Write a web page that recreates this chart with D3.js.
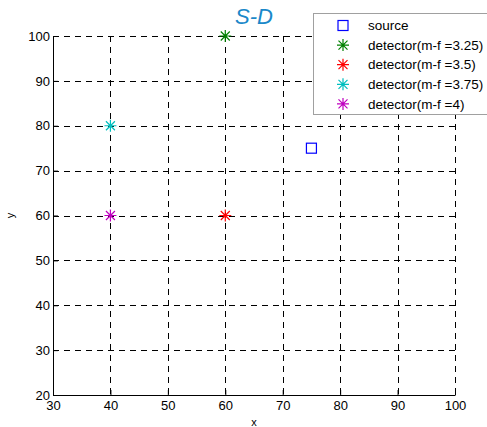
<!DOCTYPE html>
<html><head><meta charset="utf-8">
<script src="https://cdn.jsdelivr.net/npm/d3@7"></script>
<style>body{margin:0;background:#fff}svg{display:block;font-family:"Liberation Sans",Arial,sans-serif}</style>
</head><body><svg id="c" width="487" height="427"></svg>
<script>
const xTicks = [30,40,50,60,70,80,90,100];
const yTicks = [20,30,40,50,60,70,80,90,100];
const seriesNames = ["source","detector(m-f =3.25)","detector(m-f =3.5)","detector(m-f =3.75)","detector(m-f =4)"];
const seriesX = [75,60,60,40,40];
const seriesY = [75,100,60,80,60];
const seriesColor = ["#0000ff","#008000","#ff0000","#00bfbf","#bf00bf"];
const seriesShape = ["square","star","star","star","star"];

const svg = d3.select("#c");
const m = {l:53, r:455, t:36, b:395};
const x = d3.scaleLinear().domain([30,100]).range([m.l,m.r]);
const y = d3.scaleLinear().domain([20,100]).range([m.b,m.t]);

// grid
const g = svg.append("g");
g.selectAll(".vg").data(xTicks.slice(1)).enter().append("line")
  .attr("x1",d=>Math.round(x(d))+0.5).attr("x2",d=>Math.round(x(d))+0.5)
  .attr("y1",m.t).attr("y2",m.b).attr("stroke","#000").attr("stroke-dasharray","6,5").attr("stroke-width",1);
g.selectAll(".hg").data(yTicks.slice(1)).enter().append("line")
  .attr("y1",d=>Math.round(y(d))+0.5).attr("y2",d=>Math.round(y(d))+0.5)
  .attr("x1",m.l).attr("x2",m.r).attr("stroke","#000").attr("stroke-dasharray","6,5").attr("stroke-width",1);

// axes
const xAxis = d3.axisBottom(x).tickValues(xTicks).tickSizeInner(-5).tickSizeOuter(0).tickPadding(6);
const yAxis = d3.axisLeft(y).tickValues(yTicks).tickSizeInner(-5).tickSizeOuter(0).tickPadding(3);
const ax = svg.append("g").attr("transform",`translate(0,${m.b})`).call(xAxis);
const ay = svg.append("g").attr("transform",`translate(${m.l},0)`).call(yAxis);
[ax,ay].forEach(a=>{
  a.selectAll("text").attr("font-size",13).attr("fill","#000").attr("font-family","Liberation Sans, Arial, sans-serif");
  a.select(".domain").attr("stroke","#000");
  a.selectAll(".tick line").attr("stroke","#000");
});

// labels
svg.append("text").attr("x",(m.l+m.r)/2).attr("y",426).attr("text-anchor","middle").attr("font-size",11).text("x");
svg.append("text").attr("transform",`translate(14,${(m.t+m.b)/2}) rotate(-90)`).attr("text-anchor","middle").attr("font-size",11).text("y");
svg.append("text").attr("x",(m.l+m.r)/2).attr("y",24).attr("text-anchor","middle").attr("font-size",22)
  .attr("font-style","italic").attr("fill","#1a88c9").text("S-D");

function drawMarker(sel, shape, color, cx, cy){
  if(shape==="square"){
    sel.append("rect").attr("x",cx-5).attr("y",cy-5).attr("width",10).attr("height",10)
      .attr("fill","none").attr("stroke",color).attr("stroke-width",1.2);
  } else {
    const r=6, d=4.5;
    const p=`M${cx-r},${cy}L${cx+r},${cy}M${cx},${cy-r}L${cx},${cy+r}M${cx-d},${cy-d}L${cx+d},${cy+d}M${cx-d},${cy+d}L${cx+d},${cy-d}`;
    sel.append("path").attr("d",p).attr("stroke",color).attr("stroke-width",1.2).attr("fill","none");
  }
}
const pts = svg.append("g");
seriesNames.forEach((n,i)=>drawMarker(pts, seriesShape[i], seriesColor[i], x(seriesX[i]), y(seriesY[i])));

// legend
const lg = svg.append("g");
lg.append("rect").attr("x",313.5).attr("y",13.5).attr("width",180).attr("height",101)
  .attr("fill","#fff").attr("stroke","#a0a0a0").attr("stroke-width",1);
seriesNames.forEach((n,i)=>{
  const ry = 25.5 + i*19.6;
  drawMarker(lg, seriesShape[i], seriesColor[i], 343, ry);
  lg.append("text").attr("x",368).attr("y",ry).attr("dy","0.35em").attr("font-size",13.5).attr("fill","#000").text(n);
});
</script></body></html>
